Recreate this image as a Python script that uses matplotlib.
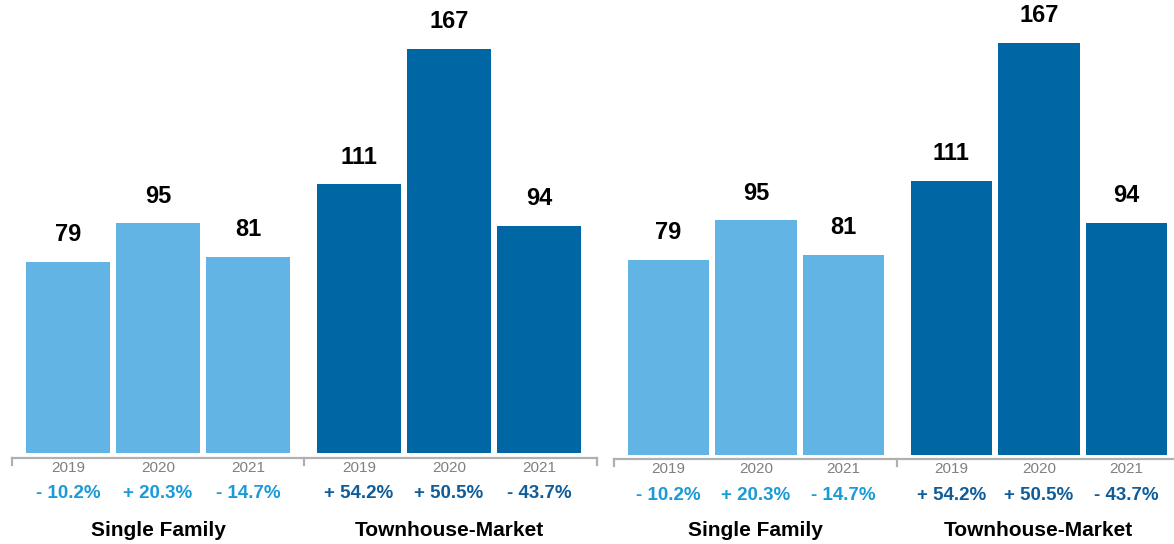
import matplotlib.pyplot as plt
import matplotlib.transforms as mtransforms

plt.rcParams['font.family'] = ['Liberation Sans', 'DejaVu Sans']

years = ['2019', '2020', '2021']
groups = ['Single Family', 'Townhouse-Market']
single_family = [79, 95, 81]
townhouse = [111, 167, 94]
sf_change = ['- 10.2%', '+ 20.3%', '- 14.7%']
th_change = ['+ 54.2%', '+ 50.5%', '- 43.7%']

light = '#62b4e4'
dark = '#0066a4'
light_txt = '#1a9ad6'
dark_txt = '#0f5c99'
axis_col = '#b0b0b0'

W, H = 1174, 544
fig = plt.figure(figsize=(W / 100, H / 100), dpi=100)

# x positions of the bars, second group shifted by the wider gap
sf_x = [0, 1, 2]
th_x = [3.233, 4.233, 5.233]
mid_x = 2.617
x0, x1 = -0.622, 5.878
ytop = 185


def panel(left_px, unit_px, base_px, yscale, dy):
    width_px = (x1 - x0) * unit_px
    height_px = ytop * yscale
    ax = fig.add_axes([left_px / W, (H - base_px) / H, width_px / W, height_px / H])
    ax.set_xlim(x0, x1)
    ax.set_ylim(0, ytop)
    ax.axis('off')

    b1 = ax.bar(sf_x, single_family, width=0.93, color=light)
    b2 = ax.bar(th_x, townhouse, width=0.93, color=dark)
    for bars in (b1, b2):
        for b in bars:
            ax.annotate(f'{int(b.get_height())}', (b.get_x() + b.get_width() / 2, b.get_height()),
                        xytext=(0, 19.5), textcoords='offset points', ha='center', va='center',
                        fontsize=17, fontweight='bold', color='black')

    tr = mtransforms.blended_transform_factory(ax.transData, fig.transFigure)

    def fy(px):
        return 1 - (px + dy) / H

    # axis line with downward ticks
    ax.plot([x0 + 0.005, x1 - 0.005], [fy(458), fy(458)], color=axis_col, lw=1.6,
            transform=tr, clip_on=False)
    for tx in (x0 + 0.005, mid_x, x1 - 0.005):
        ax.plot([tx, tx], [fy(458), fy(465)], color=axis_col, lw=1.6,
                transform=tr, clip_on=False)

    for xs, chg, col in ((sf_x, sf_change, light_txt), (th_x, th_change, dark_txt)):
        for x, yr, c in zip(xs, years, chg):
            ax.text(x, fy(468), yr, transform=tr, ha='center', va='center',
                    fontsize=11, color='#808080')
            ax.text(x, fy(494), c, transform=tr, ha='center', va='center',
                    fontsize=13.5, fontweight='bold', color=col)
    ax.text(1, fy(530), groups[0], transform=tr, ha='center', va='center',
            fontsize=15, fontweight='bold', color='black')
    ax.text(4.233, fy(530), groups[1], transform=tr, ha='center', va='center',
            fontsize=15, fontweight='bold', color='black')
    return ax


panel(12, 90, 453, 2.42, 0)
panel(614, 87.5, 455, 2.47, 1)

fig.savefig('out.png', dpi=100)
